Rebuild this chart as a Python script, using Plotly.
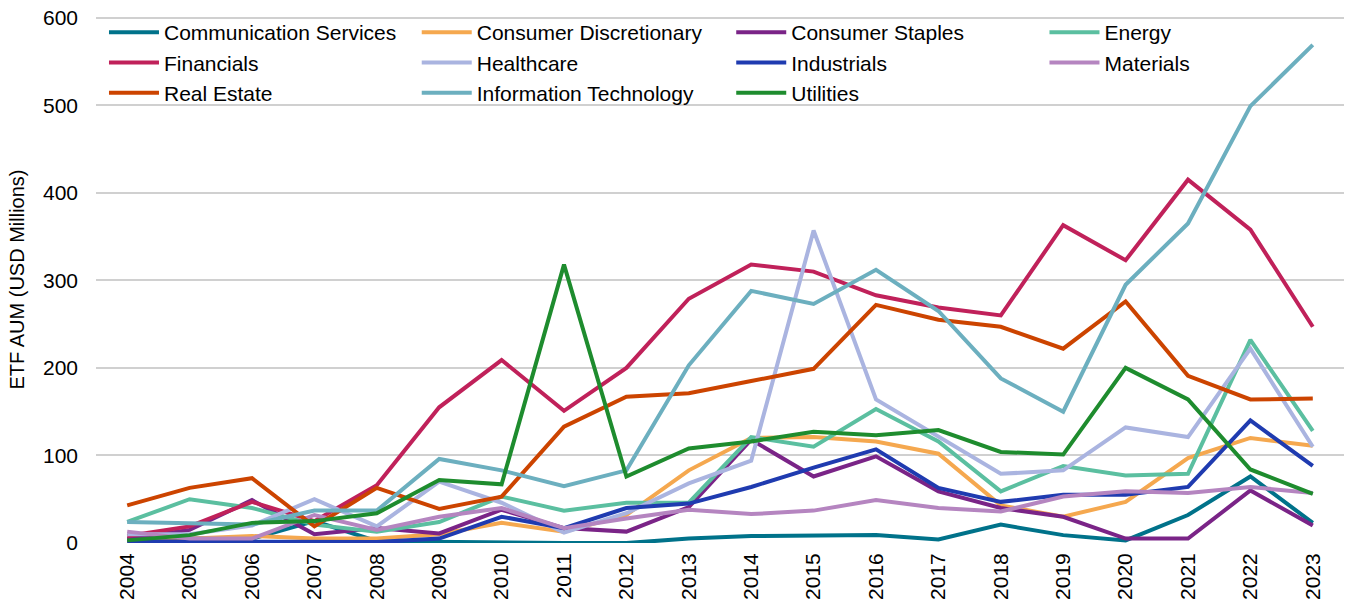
import plotly.graph_objects as go

years = [str(y) for y in range(2004, 2024)]

comm_services = [3, 5, 5, 25, 2, 1, 1, 0, 0, 5, 8, 8, 9, 4, 21, 9, 3, 32, 76, 23]
consumer_disc = [2, 5, 8, 5, 5, 10, 23, 13, 32, 83, 120, 121, 116, 102, 43, 30, 47, 97, 120, 111]
consumer_staples = [5, 15, 49, 10, 17, 11, 38, 17, 13, 41, 118, 76, 99, 59, 40, 30, 5, 5, 60, 20]
energy = [24, 50, 40, 21, 13, 24, 53, 37, 46, 46, 121, 110, 153, 116, 59, 88, 77, 79, 232, 128]
financials = [8, 19, 47, 25, 66, 155, 209, 151, 200, 279, 318, 310, 283, 269, 260, 363, 323, 415, 358, 247]
healthcare = [10, 10, 20, 50, 19, 70, 46, 12, 34, 68, 94, 357, 164, 121, 79, 83, 132, 121, 222, 110]
industrials = [2, 2, 2, 2, 1, 5, 30, 17, 40, 45, 64, 86, 107, 63, 47, 55, 55, 64, 140, 88]
materials = [13, 5, 5, 32, 15, 30, 40, 17, 28, 38, 33, 37, 49, 40, 36, 53, 59, 57, 64, 57]
real_estate = [43, 63, 74, 19, 63, 39, 53, 133, 167, 171, 185, 199, 272, 255, 247, 222, 276, 191, 164, 165]
info_tech = [24, 23, 21, 37, 37, 96, 83, 65, 83, 203, 288, 273, 312, 265, 188, 150, 295, 365, 499, 569]
utilities = [3, 9, 23, 25, 34, 72, 67, 318, 76, 108, 116, 127, 123, 129, 104, 101, 200, 164, 84, 56]

# (name, values, colour, legend column)
series = [
    ("Communication Services", comm_services, "#00728A", "legend"),
    ("Consumer Discretionary", consumer_disc, "#F5A84F", "legend2"),
    ("Consumer Staples", consumer_staples, "#7A2487", "legend3"),
    ("Energy", energy, "#5BBFA0", "legend4"),
    ("Financials", financials, "#C0215A", "legend"),
    ("Healthcare", healthcare, "#AAB4E0", "legend2"),
    ("Industrials", industrials, "#1F3BB0", "legend3"),
    ("Materials", materials, "#B585C0", "legend4"),
    ("Real Estate", real_estate, "#CC4400", "legend"),
    ("Information Technology", info_tech, "#6CAFBF", "legend2"),
    ("Utilities", utilities, "#1E8C2E", "legend3"),
]

fig = go.Figure()
for name, vals, color, lg in series:
    fig.add_trace(go.Scatter(x=years, y=vals, name=name, mode="lines", legend=lg,
                             line=dict(color=color, width=4)))

font = "Liberation Sans, Arial, sans-serif"
FS = 21


def leg(x):
    return dict(orientation="v", x=x, y=1.0076, xanchor="left", yanchor="top",
                font=dict(size=FS, color="#000000"), bgcolor="rgba(0,0,0,0)",
                tracegroupgap=0, itemwidth=50)


fig.update_layout(
    width=1348, height=605,
    margin=dict(l=96, r=4, t=16, b=62, autoexpand=False),
    paper_bgcolor="white", plot_bgcolor="white",
    font=dict(family=font, size=FS, color="#000000"),
    showlegend=True,
    legend=leg(0.0064),
    legend2=leg(0.257),
    legend3=leg(0.509),
    legend4=leg(0.760),
    xaxis=dict(type="category", range=[-0.5, 19.5], tickangle=-90, automargin=False,
               showgrid=False, zeroline=False, showline=False, ticks="",
               tickfont=dict(size=FS), ticklabelstandoff=5),
    yaxis=dict(range=[0, 602], tickvals=[0, 100, 200, 300, 400, 500, 600], automargin=False,
               showgrid=True, gridcolor="#D0D0D0", ticklabeloverflow="allow",
               gridwidth=1.5, zeroline=False, showline=False, ticks="",
               tickfont=dict(size=FS), ticklabelstandoff=17,
               title=dict(text="ETF AUM (USD Millions)", font=dict(size=20), standoff=12)),
)

fig.write_html("out.html", config={"displayModeBar": False},
               post_script="document.body.style.margin='0';document.body.style.overflow='hidden';")
